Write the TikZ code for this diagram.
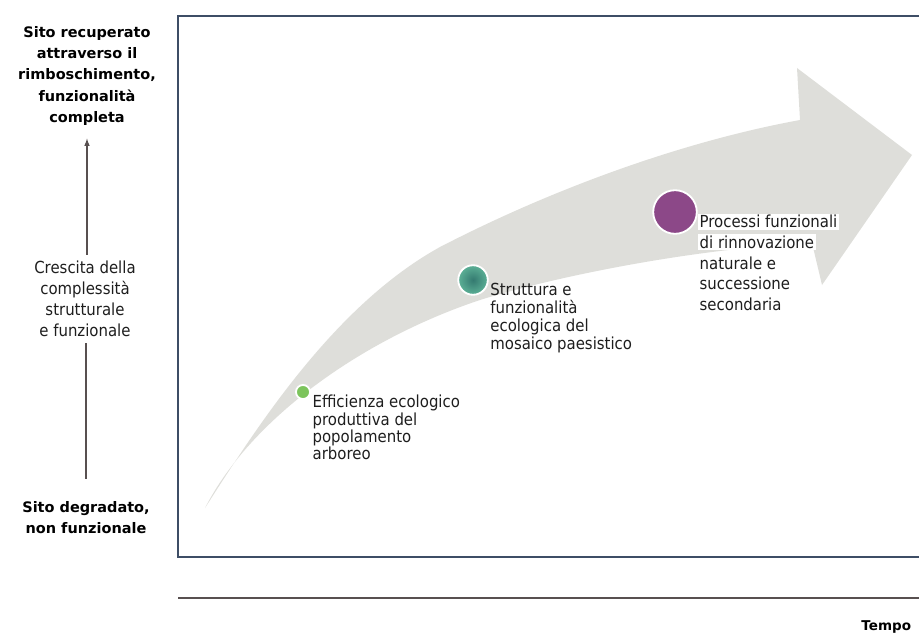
\documentclass[tikz,border=0pt]{standalone}
\usepackage{fontspec}
\setmainfont{DejaVu Sans}
\newfontfamily\condfont{DejaVu Sans Condensed}
\usetikzlibrary{positioning,calc}

\definecolor{framecol}{RGB}{62,78,102}
\definecolor{axiscol}{RGB}{88,80,80}
\definecolor{arrowgray}{RGB}{222,222,218}
\definecolor{dotgreen}{RGB}{124,196,92}
\definecolor{dottealA}{RGB}{52,122,112}
\definecolor{dottealB}{RGB}{92,176,150}
\definecolor{dotpurple}{RGB}{140,72,136}
\definecolor{textcol}{RGB}{30,30,30}

% one text line on a white strip
\newcommand{\wline}[1]{{\setlength{\fboxsep}{1.2pt}\colorbox{white}{#1}}}

\begin{document}
\begin{tikzpicture}[x=0.025cm,y=-0.025cm,
				side/.style={align=center,text=black,font=\bfseries\fontsize{10.3}{15}\selectfont},
				axisnote/.style={align=center,text=textcol,font=\condfont\fontsize{11.8}{15}\selectfont},
				note/.style={align=left,text=textcol,anchor=north west,inner sep=1pt},
				dot/.style={circle,draw=white,line width=1.3pt,inner sep=0pt}]
				\useasboundingbox (0,0) rectangle (919,637);

				% the big curved arrow
				\fill[arrowgray] (205,508) .. controls (258,425) and (335,305) .. (440,247)
					.. controls (560,185) and (690,140) .. (800,120) -- (797,68) -- (912,155)
					-- (822,285) -- (812,243) .. controls (700,248) and (560,275) .. (480,300)
					.. controls (360,340) and (250,420) .. (205,508) -- cycle;

				% frame and time line
				\draw[framecol,line width=1.7pt] (919,16) -- (178,16) -- (178,557) -- (919,557);
				\draw[axiscol,line width=0.8pt] (178,598) -- (919,598);
				\node (TEMPO) [anchor=east,font=\bfseries\fontsize{9.6}{12}\selectfont] at (916,627) {Tempo};

				% vertical axis
				\node (TOP)  [side]     at (87,76)  {Sito recuperato\\attraverso il\\rimboschimento,\\funzionalità\\completa};
				\node (MID)  [axisnote] at (85,299) {Crescita della\\complessità\\strutturale\\e funzionale};
				\node (LOW)  [side]     at (86,518) {Sito degradato,\\non funzionale};
				\draw[-latex,axiscol,line width=0.8pt,shorten <=1pt,shorten >=6pt] (MID.north -| TOP.south) -- (TOP.south);
				\draw[axiscol,line width=0.8pt,shorten <=1pt,shorten >=13pt] (MID.south -| LOW.north) -- (LOW.north);

				% stages along the arrow
				\node (EFF)  [dot,fill=dotgreen,minimum size=10pt] at (303,392) {};
				\node (STR)  [dot,inner color=dottealA,outer color=dottealB,minimum size=21pt] at (473,280) {};
				\node (PRO)  [dot,fill=dotpurple,minimum size=31pt] at (675,212) {};

				\node (EFFTXT) [note,axisnote,align=left,anchor=north west,font=\condfont\fontsize{11.8}{12.3}\selectfont]
					at ([yshift=-1pt]EFF.east) {Efficienza ecologico\\produttiva del\\popolamento\\arboreo};
				\node (STRTXT) [note,axisnote,align=left,anchor=north west,font=\condfont\fontsize{11.8}{12.9}\selectfont]
					at ([yshift=-1pt]STR.east) {Struttura e\\funzionalità\\ecologica del\\mosaico paesistico};
				\node (PROTXT) [note,axisnote,align=left,anchor=north west,inner sep=0pt,font=\condfont\fontsize{11.8}{14.6}\selectfont]
					at ([yshift=-1pt]PRO.east) {\wline{Processi funzionali}\\\wline{di rinnovazione}\\\wline{naturale e}\\\wline{successione}\\\wline{secondaria}};
			\end{tikzpicture}
\end{document}
